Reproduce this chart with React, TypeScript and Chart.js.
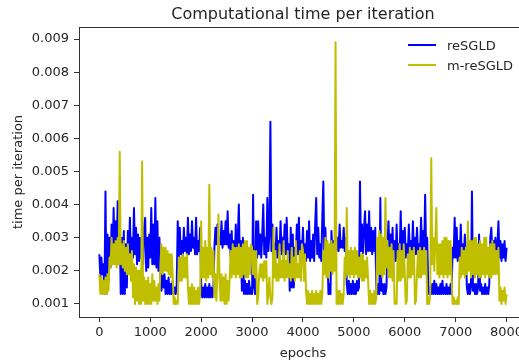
import React, { useEffect, useRef } from "react";
import { Chart, registerables } from "chart.js";

Chart.register(...registerables);

// epochs sampled every 20
const epochs: number[] = Array.from({ length: 401 }, (_, i) => i * 20);

const reSGLD: number[] = [
  // 0 - 1000
  0.0025, 0.0018, 0.0024, 0.0019, 0.0022, 0.0013, 0.0044, 0.0013, 0.0031, 0.0017,
  0.0030, 0.0021, 0.0034, 0.0022, 0.0039, 0.0023, 0.0035, 0.0022, 0.0041, 0.0024,
  0.0033, 0.0013, 0.0030, 0.0013, 0.0032, 0.0013, 0.0028, 0.0015, 0.0032, 0.0023,
  0.0036, 0.0023, 0.0030, 0.0024, 0.0039, 0.0025, 0.0033, 0.0022, 0.0031, 0.0023,
  0.0030, 0.0024, 0.0027, 0.0022, 0.0033, 0.0036, 0.0020, 0.0030, 0.0021, 0.0031,
  // 1000 - 2000
  0.0024, 0.0039, 0.0022, 0.0034, 0.0022, 0.0042, 0.0021, 0.0035, 0.0020, 0.0030,
  0.0018, 0.0014, 0.0019, 0.0015, 0.0019, 0.0013, 0.0017, 0.0013, 0.0018, 0.0013,
  0.0016, 0.0013, 0.0017, 0.0013, 0.0015, 0.0013, 0.0016, 0.0035, 0.0024, 0.0033,
  0.0025, 0.0029, 0.0024, 0.0033, 0.0026, 0.0030, 0.0025, 0.0036, 0.0025, 0.0031,
  0.0026, 0.0035, 0.0027, 0.0030, 0.0025, 0.0036, 0.0025, 0.0029, 0.0026, 0.0033,
  // 2000 - 3000
  0.0016, 0.0012, 0.0015, 0.0012, 0.0016, 0.0012, 0.0015, 0.0012, 0.0016, 0.0012,
  0.0015, 0.0012, 0.0014, 0.0027, 0.0033, 0.0028, 0.0034, 0.0027, 0.0030, 0.0028,
  0.0035, 0.0027, 0.0032, 0.0028, 0.0035, 0.0028, 0.0038, 0.0027, 0.0031, 0.0024,
  0.0032, 0.0022, 0.0029, 0.0023, 0.0034, 0.0022, 0.0030, 0.0040, 0.0023, 0.0029,
  0.0014, 0.0030, 0.0013, 0.0017, 0.0013, 0.0016, 0.0013, 0.0017, 0.0013, 0.0015,
  // 3000 - 4000
  0.0013, 0.0043, 0.0015, 0.0013, 0.0035, 0.0024, 0.0035, 0.0025, 0.0031, 0.0024,
  0.0031, 0.0040, 0.0025, 0.0030, 0.0024, 0.0042, 0.0026, 0.0031, 0.0065, 0.0026,
  0.0034, 0.0022, 0.0028, 0.0024, 0.0033, 0.0024, 0.0029, 0.0026, 0.0035, 0.0025,
  0.0030, 0.0026, 0.0034, 0.0025, 0.0036, 0.0025, 0.0028, 0.0014, 0.0033, 0.0015,
  0.0031, 0.0015, 0.0027, 0.0025, 0.0034, 0.0025, 0.0036, 0.0024, 0.0029, 0.0025,
  // 4000 - 5000
  0.0033, 0.0023, 0.0028, 0.0023, 0.0032, 0.0024, 0.0035, 0.0023, 0.0029, 0.0024,
  0.0031, 0.0023, 0.0034, 0.0042, 0.0025, 0.0033, 0.0024, 0.0028, 0.0023, 0.0036,
  0.0047, 0.0024, 0.0033, 0.0023, 0.0028, 0.0013, 0.0016, 0.0013, 0.0032, 0.0024,
  0.0029, 0.0023, 0.0035, 0.0026, 0.0030, 0.0026, 0.0034, 0.0027, 0.0029, 0.0027,
  0.0033, 0.0026, 0.0030, 0.0016, 0.0013, 0.0017, 0.0013, 0.0016, 0.0013, 0.0017,
  // 5000 - 6000
  0.0013, 0.0016, 0.0013, 0.0017, 0.0014, 0.0015, 0.0047, 0.0026, 0.0034, 0.0025,
  0.0033, 0.0038, 0.0025, 0.0034, 0.0026, 0.0038, 0.0026, 0.0033, 0.0025, 0.0032,
  0.0026, 0.0033, 0.0015, 0.0013, 0.0016, 0.0013, 0.0042, 0.0014, 0.0016, 0.0013,
  0.0016, 0.0013, 0.0015, 0.0027, 0.0035, 0.0024, 0.0031, 0.0024, 0.0033, 0.0023,
  0.0029, 0.0023, 0.0034, 0.0024, 0.0028, 0.0025, 0.0038, 0.0025, 0.0032, 0.0024,
  // 6000 - 7000
  0.0033, 0.0024, 0.0028, 0.0025, 0.0034, 0.0025, 0.0029, 0.0024, 0.0035, 0.0024,
  0.0030, 0.0025, 0.0033, 0.0025, 0.0028, 0.0026, 0.0036, 0.0026, 0.0032, 0.0025,
  0.0043, 0.0025, 0.0030, 0.0016, 0.0013, 0.0015, 0.0013, 0.0016, 0.0013, 0.0017,
  0.0013, 0.0016, 0.0013, 0.0015, 0.0013, 0.0016, 0.0013, 0.0017, 0.0013, 0.0015,
  0.0013, 0.0016, 0.0013, 0.0015, 0.0013, 0.0016, 0.0013, 0.0027, 0.0024, 0.0036,
  // 7000 - 8000
  0.0024, 0.0033, 0.0023, 0.0029, 0.0024, 0.0034, 0.0023, 0.0028, 0.0024, 0.0031,
  0.0025, 0.0015, 0.0013, 0.0016, 0.0013, 0.0015, 0.0044, 0.0014, 0.0016, 0.0013,
  0.0016, 0.0013, 0.0015, 0.0031, 0.0014, 0.0016, 0.0013, 0.0015, 0.0013, 0.0016,
  0.0013, 0.0015, 0.0013, 0.0016, 0.0030, 0.0033, 0.0025, 0.0029, 0.0025, 0.0030,
  0.0024, 0.0028, 0.0035, 0.0024, 0.0029, 0.0023, 0.0028, 0.0024, 0.0029, 0.0023,
  0.0027,
];

const mReSGLD: number[] = [
  // 0 - 1000
  0.0019, 0.0013, 0.0018, 0.0013, 0.0017, 0.0013, 0.0018, 0.0013, 0.0019, 0.0014,
  0.0024, 0.0021, 0.0030, 0.0022, 0.0028, 0.0022, 0.0029, 0.0021, 0.0030, 0.0022,
  0.0056, 0.0022, 0.0028, 0.0021, 0.0029, 0.0020, 0.0027, 0.0019, 0.0028, 0.0019,
  0.0025, 0.0017, 0.0026, 0.0012, 0.0022, 0.0010, 0.0021, 0.0011, 0.0020, 0.0010,
  0.0020, 0.0010, 0.0053, 0.0011, 0.0018, 0.0010, 0.0017, 0.0010, 0.0018, 0.0010,
  // 1000 - 2000
  0.0016, 0.0010, 0.0019, 0.0011, 0.0017, 0.0011, 0.0015, 0.0010, 0.0016, 0.0011,
  0.0022, 0.0028, 0.0019, 0.0027, 0.0020, 0.0027, 0.0020, 0.0026, 0.0019, 0.0025,
  0.0018, 0.0025, 0.0019, 0.0010, 0.0012, 0.0010, 0.0011, 0.0010, 0.0024, 0.0017,
  0.0024, 0.0017, 0.0025, 0.0018, 0.0024, 0.0018, 0.0025, 0.0015, 0.0010, 0.0015,
  0.0010, 0.0016, 0.0010, 0.0015, 0.0010, 0.0014, 0.0010, 0.0015, 0.0010, 0.0013,
  // 2000 - 3000
  0.0035, 0.0018, 0.0027, 0.0018, 0.0029, 0.0017, 0.0027, 0.0018, 0.0046, 0.0019,
  0.0027, 0.0018, 0.0026, 0.0012, 0.0019, 0.0011, 0.0019, 0.0037, 0.0018, 0.0011,
  0.0019, 0.0011, 0.0018, 0.0010, 0.0019, 0.0010, 0.0017, 0.0011, 0.0018, 0.0026,
  0.0018, 0.0028, 0.0019, 0.0027, 0.0018, 0.0027, 0.0019, 0.0028, 0.0018, 0.0027,
  0.0018, 0.0028, 0.0019, 0.0029, 0.0018, 0.0029, 0.0018, 0.0027, 0.0019, 0.0028,
  // 3000 - 4000
  0.0027, 0.0019, 0.0026, 0.0018, 0.0026, 0.0010, 0.0012, 0.0019, 0.0022, 0.0018,
  0.0022, 0.0017, 0.0023, 0.0018, 0.0023, 0.0010, 0.0013, 0.0018, 0.0012, 0.0010,
  0.0012, 0.0033, 0.0018, 0.0026, 0.0017, 0.0022, 0.0017, 0.0028, 0.0018, 0.0023,
  0.0018, 0.0029, 0.0017, 0.0023, 0.0018, 0.0026, 0.0018, 0.0022, 0.0017, 0.0027,
  0.0018, 0.0024, 0.0017, 0.0029, 0.0018, 0.0022, 0.0018, 0.0026, 0.0017, 0.0028,
  // 4000 - 5000
  0.0026, 0.0017, 0.0025, 0.0014, 0.0010, 0.0014, 0.0010, 0.0013, 0.0010, 0.0014,
  0.0010, 0.0013, 0.0010, 0.0014, 0.0010, 0.0013, 0.0010, 0.0014, 0.0010, 0.0013,
  0.0026, 0.0019, 0.0030, 0.0018, 0.0029, 0.0018, 0.0028, 0.0020, 0.0029, 0.0019,
  0.0028, 0.0020, 0.0089, 0.0010, 0.0014, 0.0010, 0.0014, 0.0010, 0.0013, 0.0010,
  0.0013, 0.0024, 0.0018, 0.0039, 0.0019, 0.0026, 0.0018, 0.0027, 0.0019, 0.0026,
  // 5000 - 6000
  0.0018, 0.0027, 0.0019, 0.0026, 0.0018, 0.0024, 0.0018, 0.0025, 0.0017, 0.0025,
  0.0017, 0.0023, 0.0018, 0.0024, 0.0017, 0.0010, 0.0014, 0.0010, 0.0013, 0.0010,
  0.0014, 0.0010, 0.0012, 0.0030, 0.0019, 0.0032, 0.0019, 0.0031, 0.0018, 0.0030,
  0.0019, 0.0042, 0.0021, 0.0029, 0.0018, 0.0027, 0.0018, 0.0028, 0.0017, 0.0026,
  0.0010, 0.0011, 0.0010, 0.0026, 0.0017, 0.0028, 0.0017, 0.0026, 0.0018, 0.0028,
  // 6000 - 7000
  0.0019, 0.0010, 0.0011, 0.0025, 0.0018, 0.0027, 0.0018, 0.0026, 0.0019, 0.0027,
  0.0010, 0.0011, 0.0019, 0.0026, 0.0018, 0.0027, 0.0018, 0.0026, 0.0019, 0.0027,
  0.0019, 0.0026, 0.0010, 0.0012, 0.0010, 0.0013, 0.0054, 0.0022, 0.0030, 0.0020,
  0.0029, 0.0039, 0.0019, 0.0028, 0.0018, 0.0028, 0.0019, 0.0029, 0.0018, 0.0030,
  0.0019, 0.0030, 0.0018, 0.0029, 0.0019, 0.0029, 0.0018, 0.0010, 0.0012, 0.0010,
  // 7000 - 8000
  0.0011, 0.0010, 0.0012, 0.0010, 0.0024, 0.0018, 0.0027, 0.0019, 0.0026, 0.0018,
  0.0027, 0.0019, 0.0035, 0.0020, 0.0029, 0.0018, 0.0029, 0.0019, 0.0030, 0.0018,
  0.0030, 0.0019, 0.0028, 0.0018, 0.0029, 0.0018, 0.0028, 0.0019, 0.0030, 0.0018,
  0.0030, 0.0019, 0.0027, 0.0018, 0.0028, 0.0018, 0.0029, 0.0019, 0.0028, 0.0019,
  0.0026, 0.0019, 0.0027, 0.0011, 0.0015, 0.0010, 0.0014, 0.0011, 0.0015, 0.0010,
  0.0013,
];

const yTicks: number[] = [0.001, 0.002, 0.003, 0.004, 0.005, 0.006, 0.007, 0.008, 0.009];
const xTicks: number[] = [0, 1000, 2000, 3000, 4000, 5000, 6000, 7000, 8000];

const seriesNames = ["reSGLD", "m-reSGLD"];
const seriesColors = ["#0000ff", "#bfbf00"];

const titleText = "Computational time per iteration";
const xLabel = "epochs";
const yLabel = "time per iteration";

const FONT = "'DejaVu Sans', sans-serif";
const TEXT = "#262626";
const AXIS = "#333333";

const decorPlugin = {
  id: "decor",
  afterDraw(chart: any) {
    const { ctx, chartArea, scales } = chart;
    const xs = scales.x;
    const fullRight = xs.getPixelForValue(8400);
    const cx = (chartArea.left + fullRight) / 2;
    const cy = (chartArea.top + chartArea.bottom) / 2;
    ctx.save();
    ctx.strokeStyle = AXIS;
    ctx.lineWidth = 1;
    ctx.beginPath();
    ctx.moveTo(chartArea.left, Math.round(chartArea.top) + 0.5);
    ctx.lineTo(chartArea.right, Math.round(chartArea.top) + 0.5);
    ctx.stroke();

    ctx.fillStyle = TEXT;
    ctx.textAlign = "center";
    ctx.textBaseline = "alphabetic";
    ctx.font = `16px ${FONT}`;
    ctx.fillText(titleText, cx, 18.5);

    ctx.font = `13px ${FONT}`;
    ctx.fillText(xLabel, cx, 356.5);

    ctx.save();
    ctx.translate(21.5, cy);
    ctx.rotate(-Math.PI / 2);
    ctx.fillText(yLabel, 0, 0);
    ctx.restore();

    ctx.textAlign = "left";
    const rows = [45, 65];
    seriesNames.forEach((name, i) => {
      const y = rows[i];
      ctx.strokeStyle = seriesColors[i];
      ctx.lineWidth = 2;
      ctx.beginPath();
      ctx.moveTo(408, y);
      ctx.lineTo(436, y);
      ctx.stroke();
      ctx.fillStyle = TEXT;
      ctx.fillText(name, 447, y + 5);
    });
    ctx.restore();
  },
};

export default function App() {
  const ref = useRef<HTMLCanvasElement | null>(null);

  useEffect(() => {
    if (!ref.current) return;
    const chart = new Chart(ref.current, {
      type: "line",
      data: {
        datasets: [
          {
            label: seriesNames[0],
            data: epochs.map((e, i) => ({ x: e, y: reSGLD[i] })),
            borderColor: seriesColors[0],
            borderWidth: 2,
            pointRadius: 0,
            tension: 0,
            borderJoinStyle: "round",
            order: 2,
          },
          {
            label: seriesNames[1],
            data: epochs.map((e, i) => ({ x: e, y: mReSGLD[i] })),
            borderColor: seriesColors[1],
            borderWidth: 2,
            pointRadius: 0,
            tension: 0,
            borderJoinStyle: "round",
            order: 1,
          },
        ],
      },
      options: {
        responsive: false,
        animation: false,
        devicePixelRatio: 1,
        layout: { padding: { top: 27, left: 0, right: 0, bottom: 0 } },
        plugins: {
          legend: { display: false },
          title: { display: false },
          tooltip: { enabled: false },
        },
        scales: {
          x: {
            type: "linear",
            min: -400,
            max: 8244,
            afterBuildTicks: (scale: any) => {
              scale.ticks = xTicks.map((v) => ({ value: v }));
            },
            afterFit: (scale: any) => {
              scale.height = 43;
              scale.paddingLeft = 0;
              scale.paddingRight = 0;
            },
            grid: {
              display: true,
              drawOnChartArea: false,
              drawTicks: true,
              tickLength: 5,
              tickColor: AXIS,
              color: AXIS,
            },
            border: { display: true, color: AXIS, width: 1 },
            ticks: {
              color: TEXT,
              font: { family: FONT, size: 13 },
              padding: 3,
              maxRotation: 0,
              autoSkip: false,
              callback: (v: any) => String(v),
            },
          },
          y: {
            type: "linear",
            min: 0.000607,
            max: 0.009363,
            afterBuildTicks: (scale: any) => {
              scale.ticks = yTicks.map((v) => ({ value: v }));
            },
            afterFit: (scale: any) => {
              scale.width = 79;
              scale.paddingTop = 0;
              scale.paddingBottom = 0;
            },
            grid: {
              display: true,
              drawOnChartArea: false,
              drawTicks: true,
              tickLength: 5,
              tickColor: AXIS,
              color: AXIS,
            },
            border: { display: true, color: AXIS, width: 1 },
            ticks: {
              color: TEXT,
              font: { family: FONT, size: 13 },
              padding: 5,
              autoSkip: false,
              callback: (v: any) => Number(v).toFixed(3),
            },
          },
        },
      },
      plugins: [decorPlugin],
    });
    return () => chart.destroy();
  }, []);

  return (
    <div style={{ position: "absolute", left: 0, top: 0, width: 519, height: 360, background: "#fff" }}>
      <canvas ref={ref} width={519} height={360} style={{ display: "block" }} />
    </div>
  );
}
